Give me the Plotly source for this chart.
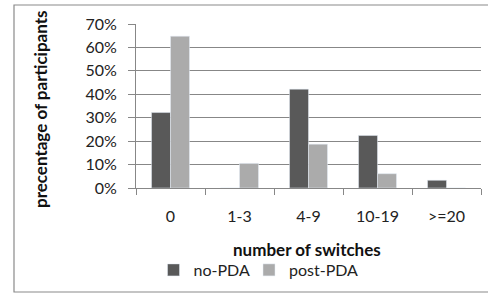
import plotly.graph_objects as go

categories = ["0", "1-3", "4-9", "10-19", ">=20"]
no_pda = [0.322, 0.0, 0.422, 0.224, 0.033]
post_pda = [0.648, 0.105, 0.187, 0.061, 0.0]
y_ticks = [0, 0.1, 0.2, 0.3, 0.4, 0.5, 0.6, 0.7]

FONT = "Lato, Carlito, Calibri, sans-serif"
GRID = "#878787"

fig = go.Figure()
fig.add_trace(go.Bar(x=categories, y=no_pda, name="no-PDA", marker_color="#595959", legend="legend"))
fig.add_trace(go.Bar(x=categories, y=post_pda, name="post-PDA", marker_color="#ababab", legend="legend2"))

LEG_Y = (188 - 270) / 164
leg_common = dict(orientation="h", y=LEG_Y, yanchor="middle", xanchor="left",
                  font=dict(size=16, color="#222222"), itemwidth=30,
                  bgcolor="rgba(0,0,0,0)", borderwidth=0)

fig.update_layout(
    width=488, height=294,
    margin=dict(l=136, r=7, t=24, b=106),
    paper_bgcolor="white", plot_bgcolor="white",
    barmode="group", bargap=0.45, bargroupgap=0,
    font=dict(family=FONT, size=16, color="#222222"),
    showlegend=True,
    legend=dict(x=(153.5 - 136) / 345, **leg_common),
    legend2=dict(x=(249 - 136) / 345, **leg_common),
    xaxis=dict(showline=True, linecolor=GRID, linewidth=1, ticks="outside", tickson="boundaries",
               ticklen=6, tickcolor=GRID, showgrid=False, tickfont=dict(size=16, color="#222222"),
               ticklabelstandoff=14),
    yaxis=dict(range=[0, 0.7], tickvals=y_ticks, tickformat=".0%", showgrid=True, gridcolor=GRID,
               gridwidth=1, showline=True, linecolor=GRID, ticks="outside", ticklen=7,
               tickcolor=GRID, zeroline=False, tickfont=dict(size=16, color="#222222"),
               ticklabelstandoff=8),
    shapes=[dict(type="rect", xref="paper", yref="paper",
                 x0=(14 - 136) / 345, x1=(500 - 136) / 345,
                 y0=(188 - 292) / 164, y1=(188 - 5) / 164,
                 line=dict(color="#8a8a8a", width=1.2), fillcolor="rgba(0,0,0,0)", layer="below")],
    annotations=[
        dict(text="<b>precentage of participants</b>", textangle=-90, xref="paper", yref="paper",
             x=(40 - 136) / 345, y=(188 - 110) / 164, xanchor="center", yanchor="middle",
             showarrow=False, font=dict(size=17, color="#111111")),
        dict(text="<b>number of switches</b>", xref="paper", yref="paper",
             x=(307 - 136) / 345, y=(188 - 250) / 164, xanchor="center", yanchor="middle",
             showarrow=False, font=dict(size=17, color="#111111")),
    ],
)

fig.write_html("out.html", config={"displayModeBar": False},
               post_script="document.body.style.margin='0';")
